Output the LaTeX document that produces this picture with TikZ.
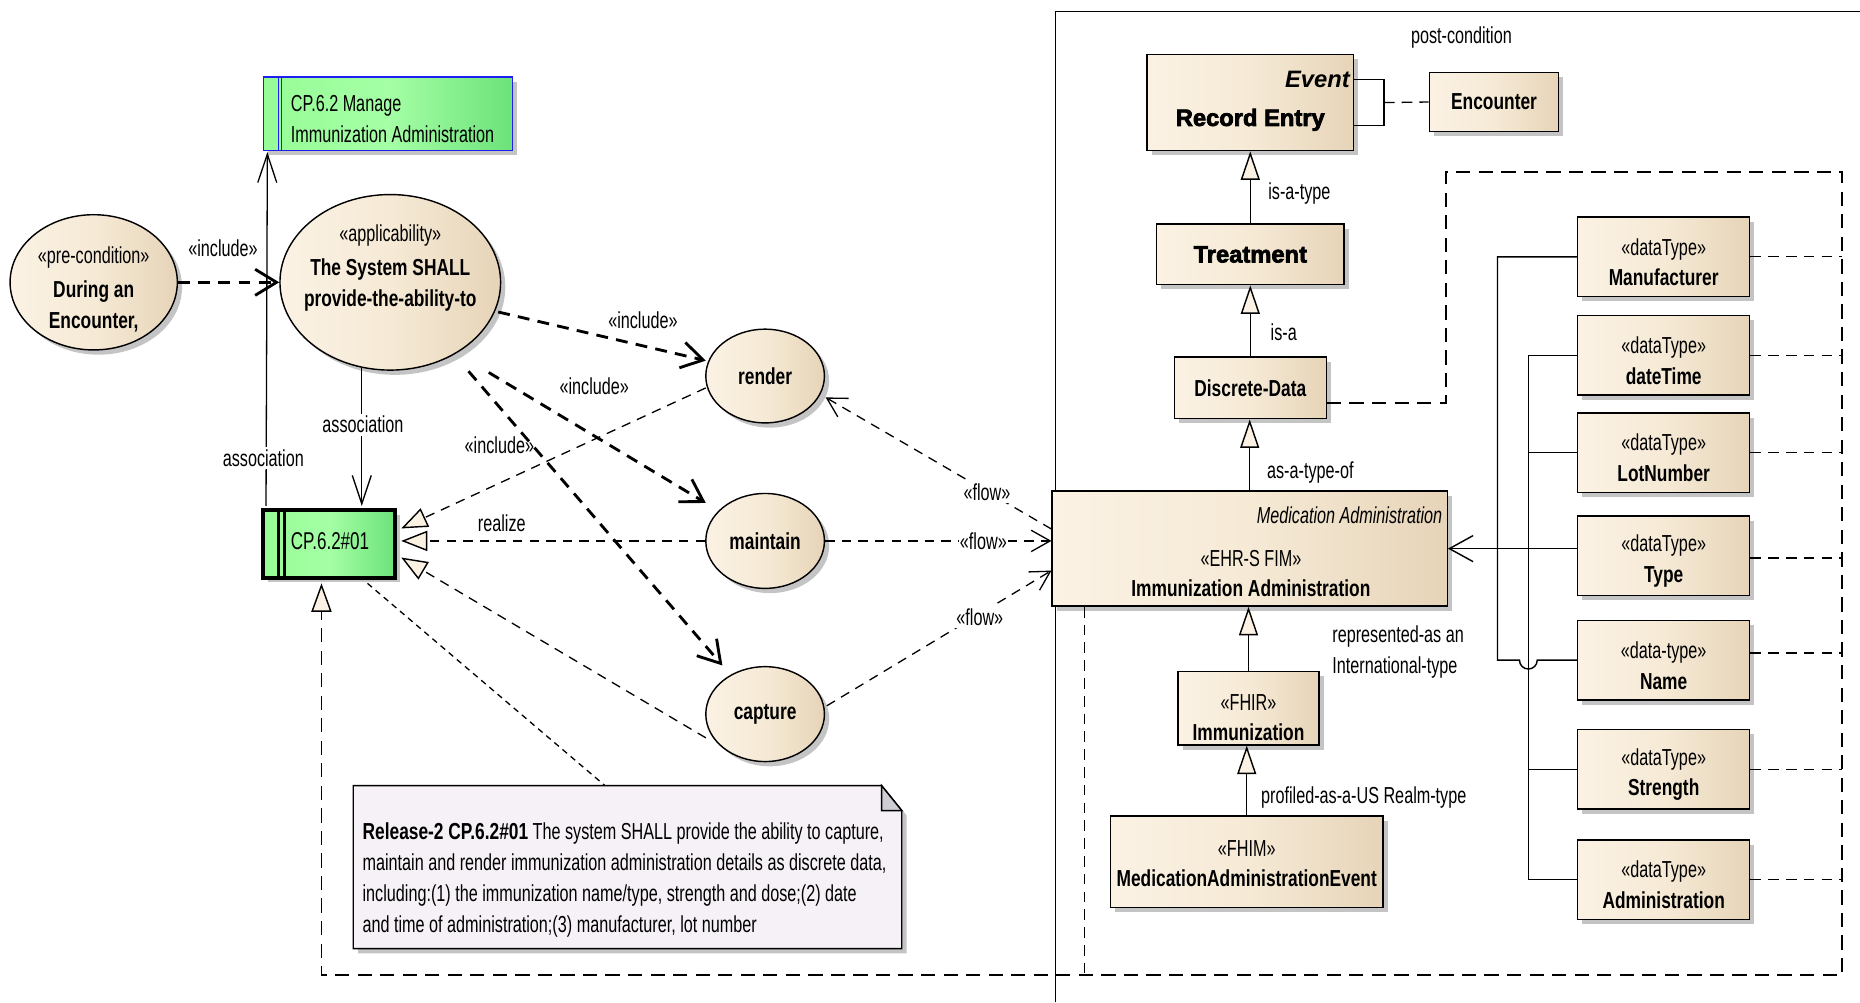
\documentclass[tikz,border=0pt]{standalone}
\usepackage{fontspec}
\setmainfont{Liberation Sans}[FakeStretch=0.70]
\newfontfamily\bfx{Liberation Sans}[FakeStretch=0.75]
\newfontfamily\heavyfam{Liberation Sans}[BoldFeatures={FakeBold=3}]
\usetikzlibrary{arrows.meta,shapes.geometric,shadows,calc}

\definecolor{tanA}{RGB}{251,242,228}
\definecolor{tanM}{RGB}{246,234,214}
\definecolor{tanB}{RGB}{230,212,184}
\definecolor{grA}{RGB}{150,252,150}
\definecolor{grL}{RGB}{165,255,165}
\definecolor{grB}{RGB}{108,226,122}
\definecolor{reqblue}{RGB}{30,30,240}
\definecolor{notefill}{RGB}{246,241,246}
\definecolor{foldgray}{RGB}{205,205,212}
\definecolor{shadowgray}{RGB}{196,196,196}

\newcommand\B{\bfx\bfseries}
\newcommand\Hv{\heavyfam\bfseries\fontsize{20}{24}\selectfont}

\begin{document}
\begin{tikzpicture}[x=1pt,y=-1pt,
  every node/.style={inner sep=0pt,font=\fontsize{19.5}{26}\selectfont},
  eashadow/.style={drop shadow={shadow xshift=4pt,shadow yshift=-4pt,fill=shadowgray,opacity=1}},
  tanfill/.style={left color=tanA,right color=tanB,middle color=tanM},
  cls/.style={rectangle,draw=black,line width=1.2pt,tanfill,eashadow},
  dtbox/.style={cls,minimum width=145pt,minimum height=67pt},
  uc/.style={ellipse,draw=black,line width=1.2pt,tanfill,eashadow,align=center},
  reqbox/.style={rectangle,left color=grA,right color=grB,middle color=grL,eashadow},
  lbl/.style={inner xsep=1pt,inner ysep=2pt},
  wlbl/.style={lbl,fill=white},
  incl/.style={line width=2.4pt,dash pattern=on 10pt off 7pt,
    -{Straight Barb[length=18pt,width=22pt,line width=2.4pt]}},
  assoc/.style={line width=1.1pt,-{Straight Barb[length=24pt,width=16pt,line width=1.1pt]}},
  flow/.style={line width=1.1pt,dash pattern=on 8pt off 6pt,
    -{Straight Barb[length=16pt,width=18pt,line width=1.1pt]}},
  realize/.style={line width=1.1pt,dash pattern=on 8pt off 6pt,
    -{Triangle[fill=tanA,length=22pt,width=17pt,line width=1.2pt]}},
  gen/.style={line width=1.2pt,-{Triangle[fill=tanA,length=24pt,width=16pt,line width=1.2pt]}},
  dep/.style={line width=1.1pt,dash pattern=on 9pt off 6pt},
  bigdep/.style={line width=1.5pt,dash pattern=on 12pt off 7pt},
  tree/.style={line width=1.2pt}
]
\useasboundingbox (0,0) rectangle (1568,845);

% package frame on the right
\draw[line width=1.1pt] (890,845) -- (890,9.5) -- (1568,9.5);

% ---------- use cases ----------
\node[uc,minimum width=141pt,minimum height=114pt] (pre) at (79,238) {};
\node[align=center] (pre-t) at (79,244) {«pre-condition»\\[3pt]\B During an\\\B Encounter,};
\node[uc,minimum width=186pt,minimum height=148pt] (app) at (329,238) {};
\node[align=center] (app-t) at (329,226) {«applicability»\\[3pt]\B The System SHALL\\\B provide-the-ability-to};
\node[uc,minimum width=100pt,minimum height=79pt] (render) at (645,317) {\B render};
\node[uc,minimum width=100pt,minimum height=80pt] (maintain) at (645,456) {\B maintain};
\node[uc,minimum width=100pt,minimum height=80pt] (capture) at (645,602) {\B capture};

% ---------- requirement boxes ----------
\node[reqbox,draw=reqblue,line width=1.2pt,minimum width=210pt,minimum height=62pt] (manage) at (327,96) {};
\draw[reqblue,line width=0.9pt] ($(manage.north west)+(13,0)$) -- ($(manage.south west)+(13,0)$)
  ($(manage.north west)+(16,0)$) -- ($(manage.south west)+(16,0)$);
\node[align=left,anchor=west] (manage-t) at (245,100) {CP.6.2 Manage\\Immunization Administration};

\node[reqbox,draw=black,line width=3.5pt,minimum width=111pt,minimum height=57pt] (req) at (277.5,458.5) {};
\draw[line width=3pt] ($(req.north west)+(14.5,0)$) -- ($(req.south west)+(14.5,0)$)
  ($(req.north west)+(19.5,0)$) -- ($(req.south west)+(19.5,0)$);
\node[anchor=west,font=\fontsize{20.5}{24}\selectfont] (req-t) at (245,456) {CP.6.2\#01};

% ---------- note ----------
\node[minimum width=462pt,minimum height=137pt] (note) at (529,731) {};
\fill[shadowgray] ($(note.north west)+(4,4)$) -- ($(note.north east)+(-13,4)$) -- ($(note.north east)+(4,25)$)
  -- ($(note.south east)+(4,4)$) -- ($(note.south west)+(4,4)$) -- cycle;
\filldraw[fill=notefill,draw=black,line width=1.2pt] (note.north west) -- ($(note.north east)+(-17,0)$)
  -- ($(note.north east)+(0,21)$) -- (note.south east) -- (note.south west) -- cycle;
\filldraw[fill=foldgray,draw=black,line width=1.2pt] ($(note.north east)+(-17,0)$) -- ($(note.north east)+(-17,21)$)
  -- ($(note.north east)+(0,21)$) -- cycle;
\node[align=left,anchor=west] (note-t) at (305.5,742) {{\B Release-2 CP.6.2\#01} The system SHALL provide the ability to capture,\\
  maintain and render immunization administration details as discrete data,\\
  including:(1) the immunization name/type, strength and dose;(2) date\\
  and time of administration;(3) manufacturer, lot number};

% ---------- information model ----------
\node[cls,minimum width=174pt,minimum height=81pt] (rec) at (1054,86.5) {};
\node[anchor=east] (rec-s) at (1138,67) {\Hv\itshape Event};
\node (rec-t) at (1054,101) {\Hv Record Entry};
\node[cls,minimum width=109pt,minimum height=50pt] (enc) at (1259.5,86) {\B Encounter};
\node[cls,minimum width=158pt,minimum height=51pt] (treat) at (1054,214.5) {\Hv Treatment};
\node[cls,minimum width=128pt,minimum height=52pt] (dd) at (1054,327) {\B Discrete-Data};
\node[cls,minimum width=333pt,minimum height=97pt] (ia) at (1053.5,462.5) {};
\node[anchor=east] (ia-s) at (1216,434) {\itshape Medication Administration};
\node[align=center] (ia-t) at (1054.5,483.5) {«EHR-S FIM»\\\B Immunization Administration};
\node[cls,minimum width=119pt,minimum height=62pt] (fhir) at (1052.5,597) {};
\node[align=center] (fhir-t) at (1052.5,605) {«FHIR»\\\B Immunization};
\node[cls,minimum width=230pt,minimum height=77pt] (fhim) at (1051,726.5) {};
\node[align=center] (fhim-t) at (1051,728) {«FHIM»\\\B MedicationAdministrationEvent};

% data types
\node[dtbox] (man) at (1402.5,216.5) {};
\node[align=center] (man-t) at (1402.5,221) {«dataType»\\\B Manufacturer};
\node[dtbox] (dtm) at (1402.5,299.5) {};
\node[align=center] (dtm-t) at (1402.5,304) {«dataType»\\\B dateTime};
\node[dtbox] (lot) at (1402.5,381.5) {};
\node[align=center] (lot-t) at (1402.5,386) {«dataType»\\\B LotNumber};
\node[dtbox] (typ) at (1402.5,468.5) {};
\node[align=center] (typ-t) at (1402.5,473) {«dataType»\\\B Type};
\node[dtbox] (nam) at (1402.5,556.5) {};
\node[align=center] (nam-t) at (1402.5,561) {«data-type»\\\B Name};
\node[dtbox] (str) at (1402.5,648.5) {};
\node[align=center] (str-t) at (1402.5,653) {«dataType»\\\B Strength};
\node[dtbox] (adm) at (1402.5,741.5) {};
\node[align=center] (adm-t) at (1402.5,746) {«dataType»\\\B Administration};

% ---------- connectors: use cases ----------
\draw[incl] (pre.east) -- (app.west);
\draw[incl] ($(app.center)+(91,25)$) -- ($(render.center)+(-50,-13)$);
\draw[incl] ($(app.center)+(83,76)$) -- ($(maintain.center)+(-50,-32)$);
\draw[incl] ($(app.center)+(66,75)$) -- ($(capture.center)+(-36,-41)$);
\node[lbl] (inc1) at (188,209) {«include»};
\node[lbl] (inc2) at (542,270) {«include»};
\node[lbl] (inc3) at (501,326) {«include»};
\node[lbl] (inc4) at (421,375) {«include»};

\draw[assoc] ($(app.south)+(-24,-2)$) -- ($(req.north)+(27.5,-1.75)$);
\draw[assoc] ($(req.north west)+(4,-1.75)$) -- ($(manage.south west)+(4,0.6)$);
\node[wlbl] (as1) at (306,358) {association};
\node[wlbl] (as2) at (222,386) {association};

\coordinate (reqR) at ($(req.east)+(3.5,0)$);
\draw[realize] ($(render.center)+(-50,10)$) -- ($(reqR)+(0,-13)$);
\draw[realize] (maintain.west) -- (maintain.west -| reqR);
\draw[realize] ($(capture.center)+(-50,20)$) -- ($(reqR)+(0,11.5)$);
\node[lbl] (rl) at (423,441) {realize};

\draw[line width=1.1pt,dash pattern=on 5pt off 4pt] ($(req.south east)+(-25,3)$) -- ($(note.north)+(-19,0)$);

\draw[flow] ($(ia.west)+(0,-16.5)$) -- ($(render.center)+(51,18)$);
\draw[flow] (maintain.east) -- (maintain.east -| ia.west);
\draw[flow] ($(capture.center)+(52,-7)$) -- ($(ia.west)+(0,18.5)$);
\node[wlbl] (fl1) at (832,415) {«flow»};
\node[wlbl] (fl2) at (829,456) {«flow»};
\node[wlbl] (fl3) at (826,520) {«flow»};

% ---------- connectors: information model ----------
\node (post) at (1232,32) {post-condition};
\draw[line width=1.2pt] ($(rec.east)+(0,-19.5)$) -- ++(25,0) -- ++(0,39) -- ++(-25,0);
\draw[dep] ($(rec.east)+(25,0)$) -- (enc.west);

\draw[gen] (treat.north) -- (rec.south);
\node[anchor=west] (l-isatype) at (1069,163) {is-a-type};
\draw[gen] (dd.north) -- (treat.south);
\node[anchor=west] (l-isa) at (1071,280) {is-a};
\draw[gen] (ia.north) -- (ia.north |- dd.south);
\node[anchor=west] (l-asatype) at (1068,398) {as-a-type-of};
\draw[gen] (fhir.north) -- (fhir.north |- ia.south);
\node[anchor=west,align=left] (l-repr) at (1123,550) {represented-as an\\International-type};
\draw[gen] (fhim.north) -- (fhim.north |- fhir.south);
\node[anchor=west] (l-prof) at (1063,672) {profiled-as-a-US Realm-type};

% attribute tree feeding the administration class
\draw[tree] (man.west) -| ($(nam.west)+(-67,0)$) -- ($(nam.west)+(-48.5,0)$)
  arc[start angle=180,end angle=0,radius=7.5] -- (nam.west);
\draw[tree] (dtm.west) -| ($(adm.west)+(-41,0)$) -- (adm.west);
\draw[tree] (lot.west) -- ++(-41,0);
\draw[tree] (str.west) -- ++(-41,0);
\draw[tree,-{Straight Barb[length=20pt,width=22pt,line width=1.2pt]}] (ia.east -| typ.west) -- (ia.east);

% realization bus back to the requirement
\coordinate (busTop) at (1553,145);
\coordinate (busBot) at (1553,822);
\draw[dep] (man.east) -- (man.east -| busTop);
\draw[dep] (dtm.east) -- (dtm.east -| busTop);
\draw[dep] (lot.east) -- (lot.east -| busTop);
\draw[dep] ($(typ.east)+(0,2)$) -- ($(typ.east -| busTop)+(0,2)$);
\draw[dep] ($(nam.east)+(0,-6)$) -- ($(nam.east -| busTop)+(0,-6)$);
\draw[dep] (str.east) -- (str.east -| busTop);
\draw[dep] (adm.east) -- (adm.east -| busTop);
\draw[dep] ($(ia.south west)+(28,0)$) coordinate (iad) -- (iad |- busBot);
\draw[bigdep,-{Triangle[fill=tanA,length=24pt,width=17pt,line width=1.2pt]}]
  ($(dd.east)+(0,13)$) -| (1219,145) -- (busTop) -- (busBot) -| ($(req.south)+(-6.5,3)$);

\end{tikzpicture}
\end{document}
